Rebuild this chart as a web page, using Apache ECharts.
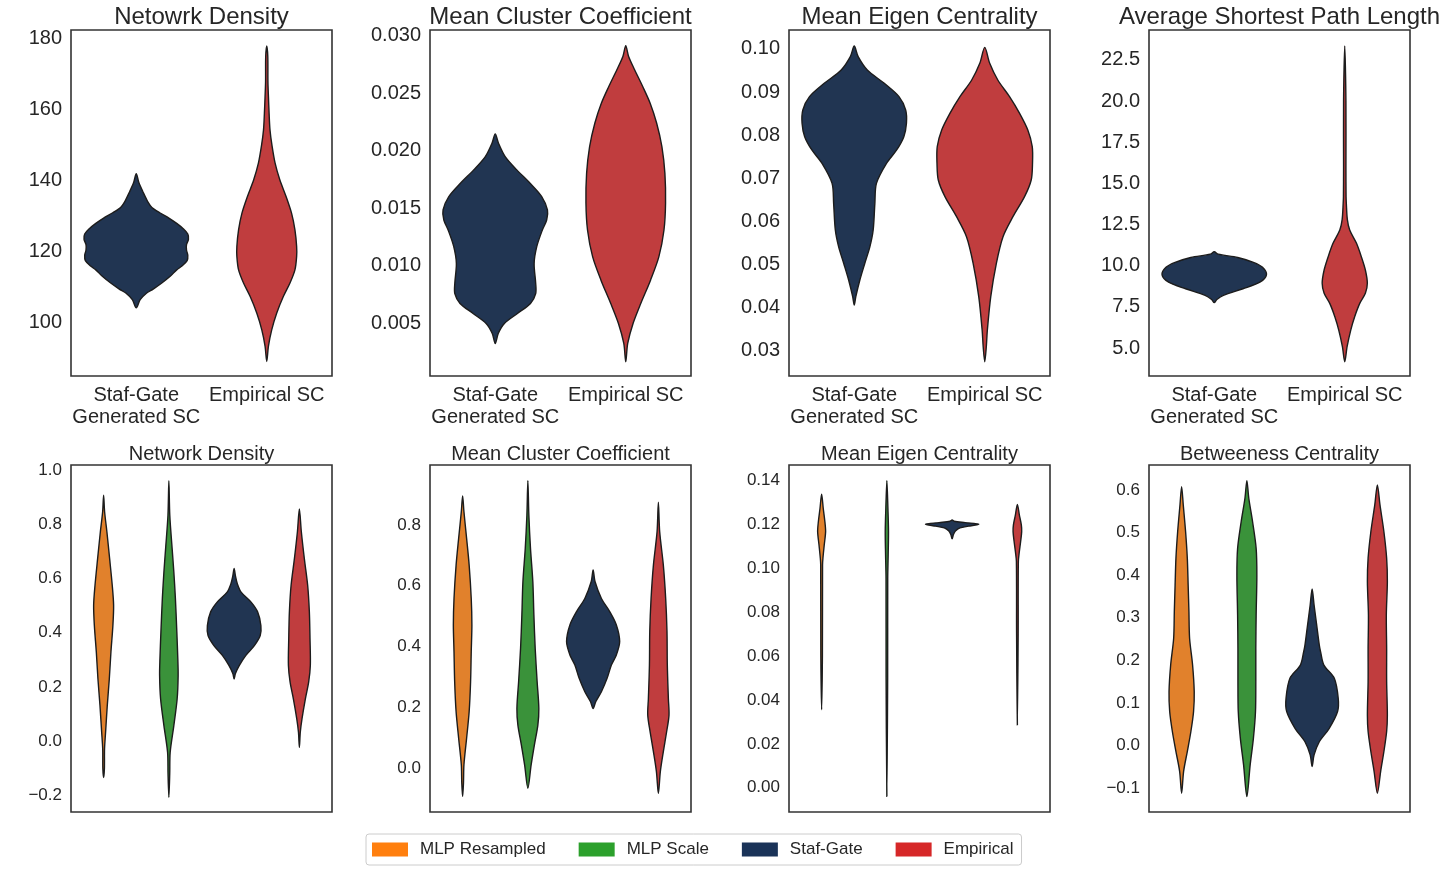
<!DOCTYPE html>
<html>
<head>
<meta charset="utf-8">
<title>Staf-Gate vs Empirical SC - violin plots</title>
<script src="https://cdn.jsdelivr.net/npm/echarts@6/dist/echarts.min.js"></script>
<style>
  html, body { margin: 0; padding: 0; background: #fff; }
  #chart { width: 1447px; height: 871px; }
</style>
</head>
<body>
<div id="chart"></div>
<script>
// categories and titles
const topCategories = ['Staf-Gate\nGenerated SC', 'Empirical SC'];
const bottomCategories = ['MLP Resampled', 'MLP Scale', 'Staf-Gate', 'Empirical'];
const topTitles = ['Netowrk Density', 'Mean Cluster Coefficient', 'Mean Eigen Centrality', 'Average Shortest Path Length'];
const bottomTitles = ['Network Density', 'Mean Cluster Coefficient', 'Mean Eigen Centrality', 'Betweeness Centrality'];

// y axis: [min, max, tick unit, label step, decimals]
const topAxes = [
  [85, 182.5, 5, 20, 0],
  [0.0004, 0.0305, 0.0002, 0.005, 3],
  [0.0242, 0.1044, 0.0002, 0.01, 2],
  [3.3, 24.32, 0.1, 2.5, 1]
];
const bottomAxes = [
  [-0.26, 1.018, 0.02, 0.2, 1],
  [-0.145, 0.9975, 0.005, 0.2, 1],
  [-0.011, 0.1468, 0.001, 0.02, 2],
  [-0.156, 0.6587, 0.002, 0.1, 1]
];

// violin outlines, top to bottom: [value, half width as a share of the category band]
const densityStaf = [[142.0,0],[139.5,0.02],[137,0.05],[134,0.09],[132.5,0.12],[131,0.18],[129.5,0.25],[128,0.31],[126.5,0.36],[125,0.395],[123.5,0.40],[122,0.385],[120.5,0.385],[119,0.395],[117.5,0.39],[116,0.35],[114.9,0.31],[113.1,0.26],[111.2,0.196],[109.5,0.13],[108.4,0.08],[106.5,0.03],[104.2,0]];
const densityEmp = [[178,0],[175,0.008],[168,0.009],[163.7,0.013],[159,0.018],[154.3,0.025],[150,0.04],[145,0.064],[140.3,0.10],[135.6,0.148],[130.9,0.19],[126.2,0.216],[121.5,0.229],[118.7,0.229],[114.9,0.216],[111.2,0.178],[107.4,0.127],[102.7,0.076],[98,0.038],[93.4,0.013],[89.1,0]];
const clusterStaf = [[0.02146,0],[0.02065,0.025],[0.01949,0.076],[0.01833,0.165],[0.01716,0.267],[0.01600,0.356],[0.01484,0.40],[0.01397,0.394],[0.01310,0.361],[0.01165,0.318],[0.01019,0.298],[0.00845,0.31],[0.00758,0.31],[0.00671,0.27],[0.00584,0.17],[0.00497,0.07],[0.00410,0.023],[0.00323,0]];
const clusterEmp = [[0.02913,0],[0.02820,0.022],[0.02704,0.068],[0.02558,0.13],[0.02413,0.187],[0.02239,0.237],[0.02036,0.277],[0.01803,0.30],[0.01542,0.305],[0.01310,0.293],[0.01078,0.254],[0.00874,0.19],[0.00671,0.115],[0.00497,0.056],[0.00323,0.015],[0.00163,0]];
const eigenStaf = [[0.10069,0],[0.09822,0.03],[0.09513,0.10],[0.09204,0.23],[0.08895,0.343],[0.08586,0.394],[0.08277,0.40],[0.07968,0.38],[0.07659,0.325],[0.07349,0.247],[0.06886,0.17],[0.06422,0.158],[0.05804,0.145],[0.05418,0.12],[0.05032,0.081],[0.04645,0.043],[0.04259,0.012],[0.04066,0]];
const eigenEmp = [[0.10038,0],[0.09667,0.038],[0.09281,0.10],[0.08895,0.19],[0.08508,0.267],[0.08122,0.33],[0.07736,0.364],[0.07349,0.366],[0.06963,0.356],[0.06577,0.305],[0.06113,0.216],[0.05650,0.14],[0.05032,0.089],[0.04259,0.046],[0.03487,0.02],[0.03100,0.012],[0.02752,0]];
const pathStaf = [[10.85,0],[10.7,0.03],[10.5,0.18],[10.2,0.30],[9.9,0.37],[9.44,0.40],[9.0,0.35],[8.6,0.22],[8.2,0.07],[7.95,0.02],[7.76,0]];
const pathEmp = [[23.35,0],[20,0.009],[16,0.009],[14.2,0.01],[13.79,0.012],[12.8,0.02],[12.17,0.038],[11.36,0.09],[10.55,0.127],[9.74,0.158],[8.93,0.173],[8.32,0.158],[7.71,0.115],[6.9,0.076],[6.09,0.046],[5.08,0.018],[4.17,0]];

const netResampled = [[0.907,0],[0.846,0.015],[0.772,0.05],[0.673,0.092],[0.575,0.132],[0.501,0.153],[0.427,0.142],[0.329,0.112],[0.23,0.087],[0.132,0.056],[0.034,0.03],[-0.028,0.014],[-0.1,0.012],[-0.133,0]];
const netScale = [[0.960,0],[0.833,0.014],[0.71,0.05],[0.624,0.076],[0.526,0.10],[0.403,0.122],[0.304,0.137],[0.243,0.142],[0.157,0.127],[0.058,0.076],[-0.04,0.02],[-0.12,0.013],[-0.206,0]];
const netStaf = [[0.637,0],[0.61,0.02],[0.58,0.05],[0.55,0.107],[0.513,0.26],[0.477,0.36],[0.427,0.41],[0.39,0.40],[0.353,0.31],[0.317,0.18],[0.28,0.08],[0.25,0.02],[0.23,0]];
const netEmp = [[0.856,0],[0.772,0.03],[0.673,0.076],[0.575,0.127],[0.477,0.153],[0.378,0.163],[0.28,0.168],[0.218,0.142],[0.157,0.092],[0.083,0.04],[0.034,0.014],[-0.022,0]];
const mccResampled = [[0.896,0],[0.844,0.02],[0.756,0.061],[0.668,0.10],[0.558,0.132],[0.471,0.142],[0.383,0.132],[0.284,0.122],[0.185,0.10],[0.098,0.061],[0.01,0.02],[-0.05,0.013],[-0.094,0]];
const mccScale = [[0.946,0],[0.833,0.015],[0.723,0.04],[0.613,0.076],[0.504,0.092],[0.394,0.112],[0.284,0.142],[0.196,0.168],[0.141,0.153],[0.076,0.10],[0.01,0.05],[-0.067,0]];
const mccStaf = [[0.652,0],[0.613,0.03],[0.558,0.127],[0.515,0.254],[0.471,0.356],[0.416,0.407],[0.372,0.356],[0.339,0.28],[0.295,0.214],[0.251,0.127],[0.218,0.04],[0.196,0]];
const mccEmp = [[0.875,0],[0.778,0.02],[0.668,0.076],[0.558,0.112],[0.449,0.132],[0.339,0.137],[0.229,0.153],[0.174,0.163],[0.12,0.127],[0.054,0.076],[-0.012,0.03],[-0.084,0]];
const eigResampled = [[0.1335,0],[0.127,0.025],[0.121,0.05],[0.1165,0.061],[0.1104,0.04],[0.1044,0.02],[0.1013,0.014],[0.06,0.012],[0.0355,0]];
const eigScale = [[0.1397,0],[0.127,0.016],[0.1165,0.025],[0.106,0.02],[0.0953,0.013],[0.05,0.012],[-0.0039,0]];
const eigStaf = [[0.1218,0],[0.1212,0.03],[0.1206,0.2],[0.1199,0.407],[0.1190,0.25],[0.1182,0.12],[0.1168,0.05],[0.1152,0.02],[0.1132,0]];
const eigEmp = [[0.1289,0],[0.1241,0.03],[0.1195,0.061],[0.1165,0.066],[0.112,0.05],[0.1074,0.03],[0.1029,0.015],[0.07,0.012],[0.0286,0]];
const btwResampled = [[0.608,0],[0.565,0.025],[0.502,0.061],[0.44,0.087],[0.377,0.10],[0.314,0.112],[0.252,0.122],[0.189,0.168],[0.126,0.193],[0.08,0.183],[0.033,0.142],[-0.014,0.087],[-0.061,0.03],[-0.112,0]];
const btwScale = [[0.622,0],[0.58,0.03],[0.526,0.087],[0.463,0.142],[0.4,0.153],[0.306,0.142],[0.228,0.137],[0.15,0.137],[0.08,0.132],[0.017,0.10],[-0.046,0.05],[-0.12,0]];
const btwStaf = [[0.3676,0],[0.33,0.03],[0.283,0.07],[0.236,0.11],[0.22,0.13],[0.189,0.18],[0.158,0.34],[0.111,0.40],[0.08,0.39],[0.04,0.26],[0.009,0.11],[-0.022,0.03],[-0.049,0]];
const btwEmp = [[0.612,0],[0.565,0.04],[0.502,0.10],[0.44,0.142],[0.385,0.153],[0.306,0.137],[0.228,0.142],[0.15,0.142],[0.072,0.153],[0.033,0.142],[-0.014,0.10],[-0.061,0.05],[-0.112,0]];

const topViolins = [
  [densityStaf, densityEmp],
  [clusterStaf, clusterEmp],
  [eigenStaf, eigenEmp],
  [pathStaf, pathEmp]
];
const bottomViolins = [
  [netResampled, netScale, netStaf, netEmp],
  [mccResampled, mccScale, mccStaf, mccEmp],
  [eigResampled, eigScale, eigStaf, eigEmp],
  [btwResampled, btwScale, btwStaf, btwEmp]
];

// colours: legend swatches and (desaturated) violin fills
const legendColors = ['#ff7f0e', '#2ca02c', '#1a3358', '#d62728'];
const fillColors = ['#e1812c', '#3a923a', '#213552', '#c03d3e'];

const FONT = "'Liberation Sans', Arial, sans-serif";
const TEXT = '#262626';
const panelLefts = [71, 430, 789, 1149];
const panelWidth = 261;

const chart = echarts.init(document.getElementById('chart'));

function tickFormatter(step, decimals) {
  return function (v) {
    const k = v / step;
    if (Math.abs(k - Math.round(k)) > 1e-6) return '';
    const s = Math.abs(v).toFixed(decimals);
    return (v < -1e-12 ? '\u2212' : '') + s;
  };
}

function renderViolin(profile, catIdx, fill) {
  return function (params, api) {
    const band = api.size([1, 0], [catIdx, profile[0][0]])[0];
    const right = [], left = [];
    profile.forEach(function (p) {
      const pt = api.coord([catIdx, p[0]]);
      right.push([pt[0] + p[1] * band, pt[1]]);
      left.push([pt[0] - p[1] * band, pt[1]]);
    });
    const points = right.concat(left.reverse().slice(1, -1));
    return {
      type: 'polygon',
      shape: { points: points, smooth: 0.3 },
      style: { fill: fill, stroke: '#1c1c1c', lineWidth: 1.4 }
    };
  };
}

const grids = [], xAxes = [], yAxes = [], titles = [], series = [];

function addPanel(row, col) {
  const idx = grids.length;
  const isTop = row === 0;
  const ax = isTop ? topAxes[col] : bottomAxes[col];
  grids.push({
    left: panelLefts[col], width: panelWidth,
    top: isTop ? 30 : 465, height: isTop ? 346 : 347,
    show: true, borderColor: '#333', borderWidth: 1.6, backgroundColor: '#fff'
  });
  xAxes.push({
    gridIndex: idx, type: 'category',
    data: isTop ? topCategories : bottomCategories,
    axisLine: { show: false }, axisTick: { show: false }, splitLine: { show: false },
    axisLabel: isTop
      ? { show: true, interval: 0, fontSize: 20, lineHeight: 22, margin: 8, color: TEXT, fontFamily: FONT }
      : { show: false }
  });
  yAxes.push({
    gridIndex: idx, type: 'value',
    min: ax[0], max: ax[1], interval: ax[2],
    axisLine: { show: false }, axisTick: { show: false }, splitLine: { show: false },
    axisLabel: {
      fontSize: isTop ? 20 : 17, margin: 9, color: TEXT, fontFamily: FONT,
      formatter: tickFormatter(ax[3], ax[4])
    }
  });
  titles.push({
    text: isTop ? topTitles[col] : bottomTitles[col],
    left: panelLefts[col] + panelWidth / 2, top: isTop ? 5 : 444,
    textAlign: 'center', padding: 0,
    textStyle: { fontSize: isTop ? 24 : 20, fontWeight: 'normal', color: TEXT, fontFamily: FONT }
  });
  const violins = isTop ? topViolins[col] : bottomViolins[col];
  violins.forEach(function (profile, c) {
    const colorIdx = isTop ? c + 2 : c;
    series.push({
      type: 'custom',
      name: bottomCategories[colorIdx],
      xAxisIndex: idx, yAxisIndex: idx,
      data: [[c, profile[0][0]]],
      itemStyle: { color: legendColors[colorIdx] },
      renderItem: renderViolin(profile, c, fillColors[colorIdx]),
      silent: true
    });
  });
}

for (let r = 0; r < 2; r++) for (let c = 0; c < 4; c++) addPanel(r, c);

chart.setOption({
  backgroundColor: '#fff',
  animation: false,
  textStyle: { fontFamily: FONT },
  title: titles,
  grid: grids,
  xAxis: xAxes,
  yAxis: yAxes,
  legend: {
    left: 366, top: 834,
    data: bottomCategories.map(function (n, i) {
      return { name: n, icon: 'rect', itemStyle: { color: legendColors[i] } };
    }),
    itemWidth: 36, itemHeight: 14, itemGap: 33,
    textStyle: { fontSize: 17, color: TEXT, fontFamily: FONT, padding: [0, 0, 0, 7] },
    borderColor: '#cccccc', borderWidth: 1, borderRadius: 3,
    padding: [7, 8, 7, 6], selectedMode: false
  },
  series: series
});
</script>
</body>
</html>
